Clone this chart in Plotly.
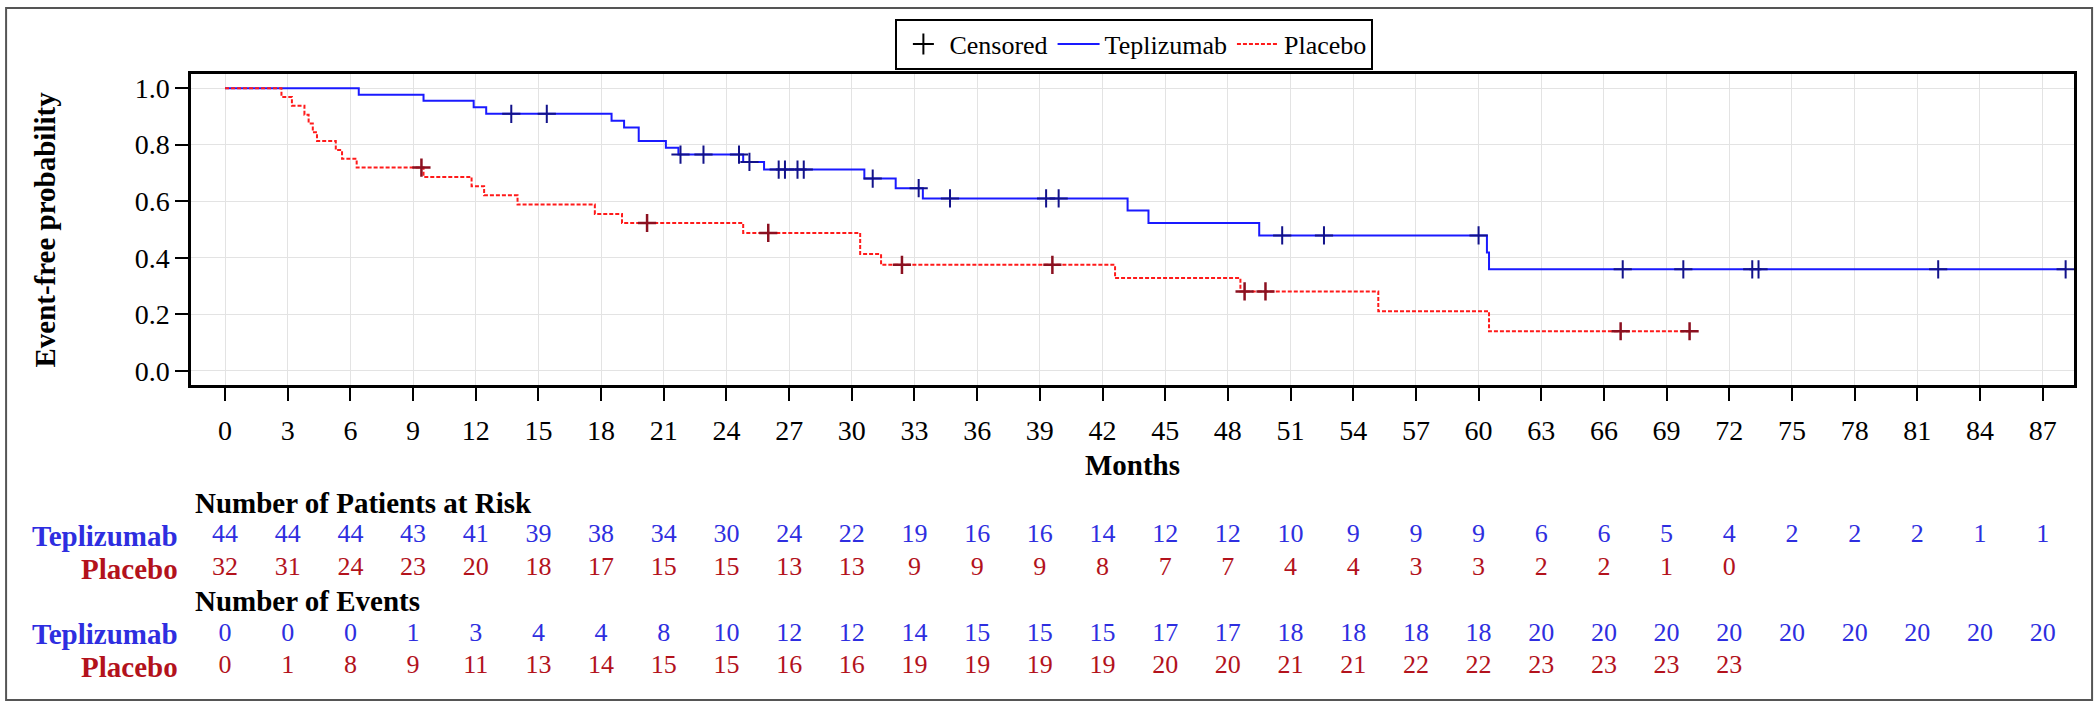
import plotly.graph_objects as go

# x ticks / risk table columns
months = list(range(0, 88, 3))

# Kaplan-Meier steps (time in months, event-free probability)
tep_time = [0, 6.4, 9.5, 11.9, 12.5, 18.5, 19.1, 19.8, 21.1, 21.7, 24.8, 25.8,
            30.6, 32.1, 33.4, 43.2, 44.2, 49.5, 60.4, 60.5, 88.1]
tep_surv = [1.0, 0.977, 0.955, 0.932, 0.909, 0.885, 0.861, 0.813, 0.789, 0.765, 0.739, 0.712,
            0.680, 0.646, 0.610, 0.567, 0.523, 0.479, 0.419, 0.359, 0.359]

pla_time = [0, 2.7, 3.2, 3.8, 4.0, 4.2, 4.4, 5.3, 5.6, 6.3, 9.5, 11.8, 12.4, 14.0,
            17.7, 19.0, 24.8, 30.4, 31.4, 42.6, 48.6, 55.2, 60.5, 70.1]
pla_surv = [1.0, 0.969, 0.938, 0.906, 0.875, 0.844, 0.813, 0.781, 0.750, 0.719, 0.686, 0.653,
            0.621, 0.588, 0.555, 0.523, 0.488, 0.413, 0.375, 0.328, 0.281, 0.211, 0.140, 0.140]

# censored observations
tep_cens_time = [13.7, 15.4, 21.8, 22.9, 24.6, 25.1, 26.5, 26.8, 27.4, 27.7, 31.0, 33.2,
                 34.7, 39.3, 39.9, 50.6, 52.6, 60.0, 66.9, 69.8, 73.1, 73.4, 82.0, 88.1]
tep_cens_surv = [0.909, 0.909, 0.765, 0.765, 0.765, 0.739, 0.712, 0.712, 0.712, 0.712, 0.680, 0.646,
                 0.610, 0.610, 0.610, 0.479, 0.479, 0.479, 0.359, 0.359, 0.359, 0.359, 0.359, 0.359]
pla_cens_time = [9.4, 20.2, 26.0, 32.4, 39.6, 48.8, 49.8, 66.8, 70.1]
pla_cens_surv = [0.719, 0.523, 0.488, 0.375, 0.375, 0.281, 0.281, 0.140, 0.140]

# numbers at risk / events
tep_risk = [44, 44, 44, 43, 41, 39, 38, 34, 30, 24, 22, 19, 16, 16, 14, 12, 12, 10, 9, 9,
            9, 6, 6, 5, 4, 2, 2, 2, 1, 1]
pla_risk = [32, 31, 24, 23, 20, 18, 17, 15, 15, 13, 13, 9, 9, 9, 8, 7, 7, 4, 4, 3, 3, 2, 2, 1, 0]
tep_events = [0, 0, 0, 1, 3, 4, 4, 8, 10, 12, 12, 14, 15, 15, 15, 17, 17, 18, 18, 18,
              18, 20, 20, 20, 20, 20, 20, 20, 20, 20]
pla_events = [0, 1, 8, 9, 11, 13, 14, 15, 15, 16, 16, 19, 19, 19, 19, 20, 20, 21, 21, 22,
              22, 23, 23, 23, 23]

FONT = "Liberation Serif"
BLUE_LINE = "#1a1aff"
RED_LINE = "#ff1a1a"
BLUE_TXT = "#2e2ee0"
RED_TXT = "#b3121c"
FS = 26      # numbers, legend
FS_T = 28    # tick labels
FS_B = 29    # bold labels

def font(size=FS, color="black"):
    return dict(family=FONT, size=size, color=color)

fig = go.Figure()

# curves
fig.add_trace(go.Scatter(x=tep_time, y=tep_surv, mode="lines", line_shape="hv",
                         line=dict(color=BLUE_LINE, width=2), name="Teplizumab", legendrank=2))
fig.add_trace(go.Scatter(x=pla_time, y=pla_surv, mode="lines", line_shape="hv",
                         line=dict(color=RED_LINE, width=2, dash="4px,2px"), name="Placebo",
                         legendrank=3))

# censor marks
fig.add_trace(go.Scatter(x=tep_cens_time, y=tep_cens_surv, mode="markers", showlegend=False,
                         marker=dict(symbol="cross-thin", size=13,
                                     line=dict(color="#12128a", width=2))))
fig.add_trace(go.Scatter(x=pla_cens_time, y=pla_cens_surv, mode="markers", showlegend=False,
                         marker=dict(symbol="cross-thin", size=13,
                                     line=dict(color="#8b1020", width=2.5))))
# legend entry only
fig.add_trace(go.Scatter(x=[None], y=[None], mode="markers", name="Censored", legendrank=1,
                         marker=dict(symbol="cross-thin", size=15, line=dict(color="black", width=2))))

# risk table as text traces on a second axis pair
rows = [(tep_risk, 1, BLUE_TXT), (pla_risk, 2, RED_TXT),
        (tep_events, 4, BLUE_TXT), (pla_events, 5, RED_TXT)]
for vals, r, col in rows:
    fig.add_trace(go.Scatter(x=months[:len(vals)], y=[r] * len(vals), mode="text",
                             text=[str(v) for v in vals], textposition="middle center",
                             textfont=font(FS, col),
                             xaxis="x2", yaxis="y2", showlegend=False, cliponaxis=False,
                             hoverinfo="skip"))

# headers and row labels
ann = []
for txt, r in [("Number of Patients at Risk", 0), ("Number of Events", 3)]:
    ann.append(dict(text="<b>%s</b>" % txt, x=0.0012, xref="paper", y=r, yref="y2",
                    xanchor="left", yanchor="middle", showarrow=False, font=font(FS_B)))
for txt, r, col in [("Teplizumab", 1, BLUE_TXT), ("Placebo", 2, RED_TXT),
                    ("Teplizumab", 4, BLUE_TXT), ("Placebo", 5, RED_TXT)]:
    ann.append(dict(text="<b>%s</b>" % txt, x=-0.006, xref="paper", y=r, yref="y2",
                    xanchor="right", yanchor="middle", showarrow=False, font=font(FS_B, col)))
# y axis title
ann.append(dict(text="<b>Event-free probability</b>", textangle=-90, x=-0.0775, xref="paper",
                y=0.5, yref="y domain", xanchor="center", yanchor="middle", showarrow=False,
                font=font(FS_B)))

fig.update_layout(
    template="none",
    width=2100, height=711,
    margin=dict(l=191, r=26, t=74, b=0),
    paper_bgcolor="white", plot_bgcolor="white",
    font=font(),
    xaxis=dict(range=[-1.63, 88.5], tickvals=months, ticks="outside", ticklen=13,
               tickwidth=2, tickcolor="black", showline=True, linewidth=2.5, linecolor="black",
               mirror=True, showgrid=True, gridcolor="#e3e3e3", gridwidth=1, zeroline=False,
               anchor="y", ticklabelstandoff=6, tickfont=font(FS_T),
               title=dict(text="<b>Months</b>", standoff=10, font=font(FS_B))),
    yaxis=dict(domain=[0.5118, 1], range=[-0.05, 1.05], tickvals=[0, 0.2, 0.4, 0.6, 0.8, 1.0],
               tickformat=".1f", ticks="outside", ticklen=13, tickwidth=2, tickcolor="black",
               showline=True, linewidth=2.5, linecolor="black", mirror=True, showgrid=True,
               gridcolor="#e3e3e3", gridwidth=1, zeroline=False, ticklabelstandoff=0,
               tickfont=font(FS_T)),
    xaxis2=dict(matches="x", anchor="y2", visible=False),
    yaxis2=dict(domain=[0, 0.4], range=[6.341, -1.427], visible=False),
    legend=dict(orientation="h", x=0.501, xanchor="center", y=1.087, yanchor="top",
                bordercolor="black", borderwidth=2, font=font(),
                bgcolor="white", itemwidth=42),
    annotations=ann,
    shapes=[dict(type="rect", xref="paper", yref="paper", x0=-0.0982, x1=1.0096,
                 y0=0.0173, y1=1.1036, line=dict(color="#555555", width=2))],
)

# drop the default page margin so the figure sits at the top-left corner
fig.write_html("out.html", config={"displayModeBar": False},
               post_script="document.body.style.margin='0';")
